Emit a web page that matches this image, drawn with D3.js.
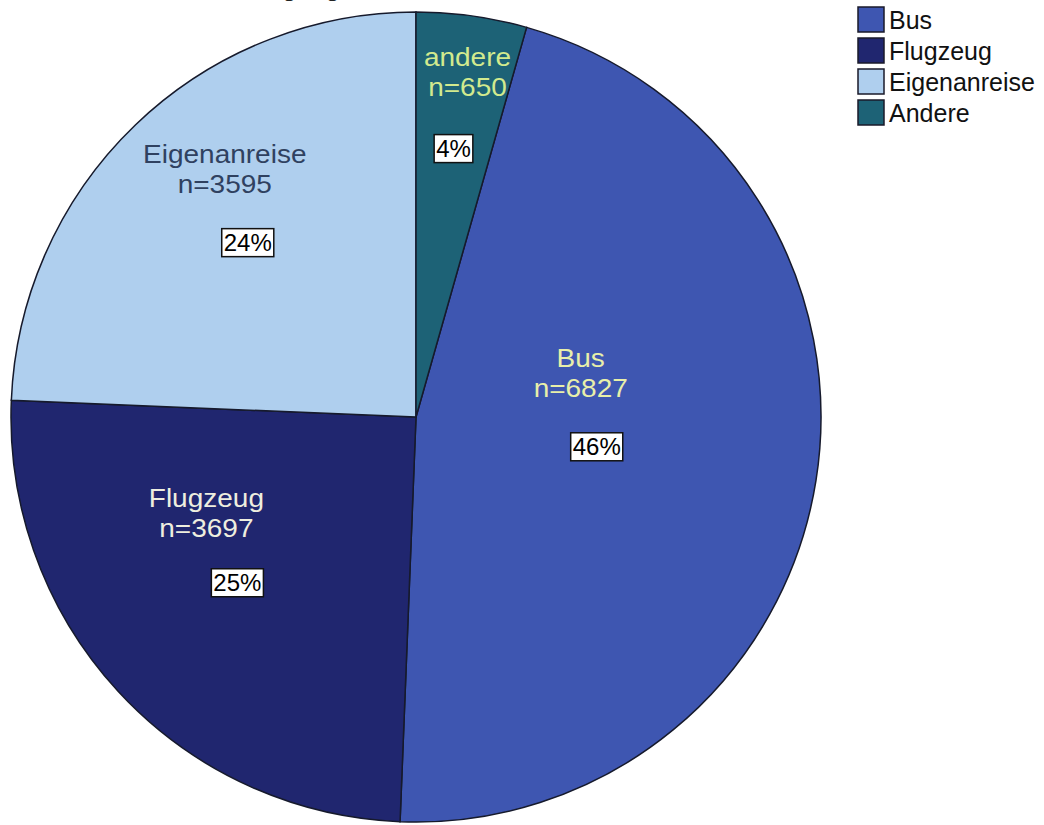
<!DOCTYPE html>
<head>
  <meta charset="utf-8" />
  <title>Anreise</title>
  <script src="https://d3js.org/d3.v7.min.js"></script>
</head>
<style>
  body {
    margin: 0;
    background: #fff;
  }
  svg text {
    font-family: Arial, "Liberation Sans", sans-serif;
  }
</style>
<body>
  <div id="container"></div>
  <script>
    // data
    var categories = ["Bus", "Flugzeug", "Eigenanreise", "Andere"];
    var sliceLabels = ["Bus", "Flugzeug", "Eigenanreise", "andere"];
    var counts = [6827, 3697, 3595, 650];
    var percents = ["46%", "25%", "24%", "4%"];

    var colors = ["#3e56b1", "#20266f", "#afcfee", "#1d6276"];
    var labelColors = ["#e8efaa", "#eeeedf", "#2f4160", "#d2ea8e"];
    // label layout: radius of the % box along the slice middle, offset of the name label
    var boxRadius = [183, 243, 243, 272];
    var nameOffset = [[-16, -88], [-31, -84], [-23, -88], [14, -91]];

    var width = 1044,
      height = 825,
      cx = 416,
      cy = 417,
      radius = 405;

    var svg = d3
      .select("#container")
      .append("svg")
      .attr("width", width)
      .attr("height", height);

    // title, almost entirely outside the frame
    svg
      .append("text")
      .attr("x", 340)
      .attr("y", -4)
      .attr("text-anchor", "end")
      .style("font-size", "26px")
      .style("fill", "#222")
      .text("Anreise zur Tagung");

    var total = d3.sum(counts);
    var start = (2 * Math.PI * counts[3]) / total;

    var pie = d3
      .pie()
      .sort(null)
      .startAngle(start)
      .endAngle(start + 2 * Math.PI);

    var arcs = pie(counts);
    var arc = d3.arc().innerRadius(0).outerRadius(radius);

    var g = svg
      .append("g")
      .attr("transform", "translate(" + cx + "," + cy + ")");

    g.selectAll("path")
      .data(arcs)
      .enter()
      .append("path")
      .attr("d", arc)
      .style("fill", (d, i) => colors[i])
      .style("stroke", "#161a2c")
      .style("stroke-width", 1.5);

    arcs.forEach(function (d, i) {
      var mid = (d.startAngle + d.endAngle) / 2;
      var bx = Math.sin(mid) * boxRadius[i];
      var by = -Math.cos(mid) * boxRadius[i];

      var nx = bx + nameOffset[i][0],
        ny = by + nameOffset[i][1];
      var name = g
        .append("text")
        .attr("text-anchor", "middle")
        .attr("transform", "translate(" + nx + "," + ny + ") scale(1.12,1)")
        .style("font-size", "25px")
        .style("fill", labelColors[i]);
      name.append("tspan").attr("x", 0).attr("y", 9).text(sliceLabels[i]);
      name.append("tspan").attr("x", 0).attr("y", 39).text("n=" + counts[i]);

      var pg = g
        .append("g")
        .attr("transform", "translate(" + bx + "," + by + ")");
      var rect = pg.append("rect");
      var pt = pg
        .append("text")
        .attr("text-anchor", "middle")
        .attr("y", 9)
        .style("font-size", "24px")
        .style("fill", "#000")
        .text(percents[i]);
      var bb = pt.node().getBBox();
      rect
        .attr("x", bb.x - 2)
        .attr("y", bb.y)
        .attr("width", bb.width + 4)
        .attr("height", bb.height + 1)
        .style("fill", "#fff")
        .style("stroke", "#111")
        .style("stroke-width", 1.5);
    });

    // legend
    var legend = svg
      .append("g")
      .attr("transform", "translate(858,7)")
      .selectAll("g")
      .data(categories)
      .enter()
      .append("g")
      .attr("transform", (d, i) => "translate(0," + i * 31 + ")");

    legend
      .append("rect")
      .attr("width", 26)
      .attr("height", 25)
      .style("fill", (d, i) => colors[i])
      .style("stroke", "#1a1a2a")
      .style("stroke-width", 1.5);

    legend
      .append("text")
      .attr("x", 31)
      .attr("y", 22)
      .style("font-size", "25px")
      .style("fill", "#111")
      .text((d) => d);
  </script>
</body>
